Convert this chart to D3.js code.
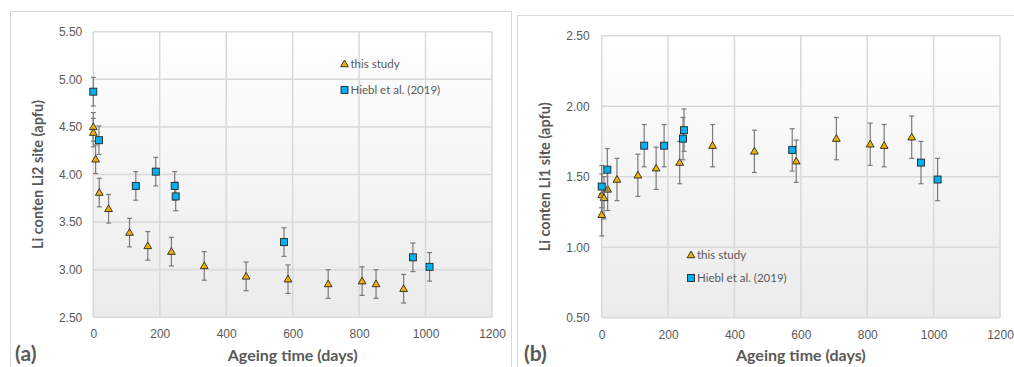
<!DOCTYPE html>
<html><head><meta charset="utf-8">
<script src="https://cdn.jsdelivr.net/npm/d3@7"></script>
<style>
html,body{margin:0;padding:0;background:#fff;}
svg{display:block;font-family:Lato, "Open Sans", sans-serif;}
</style></head>
<body>
<svg id="c" width="1014" height="367"></svg>
<script>
// ---- data ----
const studyDays = [0, 0, 7, 18, 46, 109, 164, 235, 334, 460, 586, 707, 809, 851, 934];
const studyLi2  = [4.50, 4.44, 4.16, 3.81, 3.64, 3.39, 3.25, 3.19, 3.04, 2.93, 2.90, 2.85, 2.88, 2.85, 2.80];
const studyLi1  = [1.23, 1.37, 1.35, 1.41, 1.48, 1.51, 1.56, 1.60, 1.72, 1.68, 1.61, 1.77, 1.73, 1.72, 1.78];
const studyErr  = [0.15, 0.15, 0.15, 0.15, 0.15, 0.15, 0.15, 0.15, 0.15, 0.15, 0.15, 0.15, 0.15, 0.15, 0.15];

const hieblDays = [0, 17, 128, 188, 245, 248, 574, 962, 1012];
const hieblLi2  = [4.87, 4.36, 3.88, 4.03, 3.88, 3.77, 3.29, 3.13, 3.03];
const hieblLi1  = [1.43, 1.55, 1.72, 1.72, 1.77, 1.83, 1.69, 1.60, 1.48];
const hieblErr  = [0.15, 0.15, 0.15, 0.15, 0.15, 0.15, 0.15, 0.15, 0.15];

const xTicks = [0, 200, 400, 600, 800, 1000, 1200];
const yTicksA = [2.5, 3.0, 3.5, 4.0, 4.5, 5.0, 5.5];
const yTicksB = [0.5, 1.0, 1.5, 2.0, 2.5];
const seriesNames = ["this study", "Hiebl et al. (2019)"];
const xTitle = "Ageing time (days)";

const svg = d3.select("#c");
const defs = svg.append("defs");
const grad = defs.append("linearGradient").attr("id","bg").attr("x1",0).attr("y1",0).attr("x2",0).attr("y2",1);
grad.append("stop").attr("offset","0%").attr("stop-color","#ffffff");
grad.append("stop").attr("offset","100%").attr("stop-color","#ebebeb");

const TRI = "#f2b000", SQ = "#00b0f0", MSTROKE = "#262626", TXT = "#595959", GRID = "#d9d9d9";

function panel(cfg){
  svg.append("rect").attr("x",cfg.frame[0]).attr("y",cfg.frame[1])
     .attr("width",cfg.frame[2]).attr("height",cfg.frame[3])
     .attr("fill","#fff").attr("stroke","#d9d9d9").attr("stroke-width",1);
  const x = d3.scaleLinear().domain([0,1200]).range([cfg.x0,cfg.x1]);
  const y = d3.scaleLinear().domain(cfg.yDomain).range([cfg.yb,cfg.yt]);
  const g = svg.append("g");
  g.append("rect").attr("x",cfg.x0).attr("y",cfg.yt).attr("width",cfg.x1-cfg.x0).attr("height",cfg.yb-cfg.yt)
   .attr("fill","url(#bg)");
  g.selectAll(".gx").data(xTicks).join("line")
   .attr("x1",d=>x(d)).attr("x2",d=>x(d)).attr("y1",cfg.yt).attr("y2",cfg.yb)
   .attr("stroke",GRID).attr("stroke-width",1.5);
  g.selectAll(".gy").data(cfg.yTicks).join("line")
   .attr("y1",d=>y(d)).attr("y2",d=>y(d)).attr("x1",cfg.x0).attr("x2",cfg.x1)
   .attr("stroke",GRID).attr("stroke-width",1.5);
  const ax = d3.axisBottom(x).tickValues(xTicks).tickSize(0).tickPadding(0).tickFormat(d3.format("d"));
  const gx = g.append("g").attr("transform",`translate(0,${cfg.yb+21})`).call(ax);
  gx.select(".domain").remove();
  gx.selectAll("text").attr("fill",TXT).attr("font-size",12).attr("dy",0);
  const ay = d3.axisLeft(y).tickValues(cfg.yTicks).tickSize(0).tickPadding(cfg.yPad).tickFormat(d3.format(".2f"));
  const gy = g.append("g").attr("transform",`translate(${cfg.x0},0)`).call(ay);
  gy.select(".domain").remove();
  gy.selectAll("text").attr("fill",TXT).attr("font-size",12);
  g.append("text").attr("x",(cfg.x0+cfg.x1)/2).attr("y",361).attr("text-anchor","middle")
   .attr("font-size",16).attr("font-weight","bold").attr("fill",TXT).text(xTitle);
  g.append("text").attr("transform",`translate(${cfg.ytx},${(cfg.yt+cfg.yb)/2}) rotate(-90)`)
   .attr("text-anchor","middle").attr("dy","0.35em")
   .attr("font-size",14.5).attr("font-weight","bold").attr("fill",TXT).text(cfg.yTitle);
  g.append("text").attr("x",cfg.labX).attr("y",361).attr("font-size",21).attr("font-weight","bold")
   .attr("fill",TXT).text(cfg.label);

  const sets = [
    {days:studyDays, vals:cfg.study, err:studyErr, shape:"tri"},
    {days:hieblDays, vals:cfg.hiebl, err:hieblErr, shape:"sq"}
  ];
  const tri = d3.symbol().type(d3.symbolTriangle).size(26);
  sets.forEach(s=>{
    const data = s.days.map((d,i)=>({d, v:s.vals[i], e:s.err[i]}));
    const eb = g.append("g").attr("stroke","#7a7a7a").attr("stroke-width",1.2);
    eb.selectAll("line.v").data(data).join("line")
      .attr("x1",p=>x(p.d)).attr("x2",p=>x(p.d)).attr("y1",p=>y(p.v+p.e)).attr("y2",p=>y(p.v-p.e));
    eb.selectAll("line.t").data(data).join("line")
      .attr("x1",p=>x(p.d)-2.5).attr("x2",p=>x(p.d)+2.5).attr("y1",p=>y(p.v+p.e)).attr("y2",p=>y(p.v+p.e));
    eb.selectAll("line.b").data(data).join("line")
      .attr("x1",p=>x(p.d)-2.5).attr("x2",p=>x(p.d)+2.5).attr("y1",p=>y(p.v-p.e)).attr("y2",p=>y(p.v-p.e));
    if(s.shape==="tri"){
      g.selectAll(null).data(data).join("path")
       .attr("d",tri).attr("transform",p=>`translate(${x(p.d)},${y(p.v)+0.5})`)
       .attr("fill",TRI).attr("stroke",MSTROKE).attr("stroke-width",0.9);
    } else {
      g.selectAll(null).data(data).join("rect")
       .attr("x",p=>x(p.d)-3.5).attr("y",p=>y(p.v)-3.5).attr("width",7).attr("height",7)
       .attr("fill",SQ).attr("stroke",MSTROKE).attr("stroke-width",0.9);
    }
  });
  const lg = g.append("g").attr("transform",`translate(${cfg.leg[0]},${cfg.leg[1]})`);
  lg.append("path").attr("d",tri).attr("transform","translate(0,0.5)")
    .attr("fill",TRI).attr("stroke",MSTROKE).attr("stroke-width",0.9);
  lg.append("text").attr("x",6).attr("y",0).attr("dy","0.35em").attr("font-size",11.5).attr("fill",TXT).text(seriesNames[0]);
  lg.append("rect").attr("x",-3.5).attr("y",cfg.legGap-3.5).attr("width",7).attr("height",7)
    .attr("fill",SQ).attr("stroke",MSTROKE).attr("stroke-width",0.9);
  lg.append("text").attr("x",6).attr("y",cfg.legGap).attr("dy","0.35em").attr("font-size",11.5).attr("fill",TXT).text(seriesNames[1]);
}

panel({frame:[10.5,11.5,501,370], x0:93.3, x1:492, yt:31.7, yb:317.3, yDomain:[2.5,5.5], yTicks:yTicksA,
  yPad:11, ytx:38, yTitle:"Li conten Li2 site (apfu)", labX:15, label:"(a)",
  study:studyLi2, hiebl:hieblLi2, leg:[344.5,64], legGap:26});
panel({frame:[517.5,15.5,510,370], x0:601.7, x1:1000, yt:35.7, yb:317.7, yDomain:[0.5,2.5], yTicks:yTicksB,
  yPad:12, ytx:545, yTitle:"Li conten Li1 site (apfu)", labX:524, label:"(b)",
  study:studyLi1, hiebl:hieblLi1, leg:[691,255], legGap:23});
</script>
</body></html>
